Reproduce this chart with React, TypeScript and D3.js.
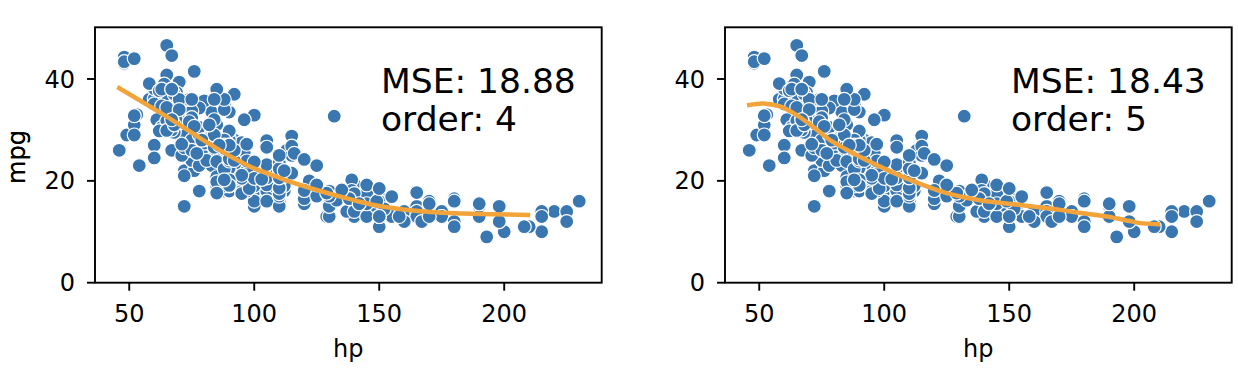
import React from "react";
import * as d3 from "d3";

// Scatter data (hp, mpg)
const hpValues = [
130,165,150,150,140,198,220,215,225,190,170,160,150,225,95,95,97,85,88,46,87,90,95,113,90,215,200,210,193,
88,90,95,100,105,100,88,100,165,175,153,150,180,170,175,110,72,100,88,86,90,70,76,65,69,60,70,
95,80,54,90,86,165,175,150,153,150,208,155,160,190,97,150,130,140,150,112,76,87,69,86,92,97,80,88,
175,150,145,137,150,198,150,158,150,215,225,175,105,100,100,88,95,46,150,167,170,180,100,88,72,94,90,85,107,90,145,230,49,75,91,112,150,110,122,180,
95,100,100,67,80,65,75,100,110,105,140,150,150,140,150,83,67,78,52,61,75,75,75,97,93,67,
95,105,72,72,170,145,150,148,110,105,110,95,110,110,129,75,83,100,78,96,71,97,97,70,90,95,88,98,115,53,
86,81,92,79,83,140,150,120,152,100,105,81,90,52,60,70,53,100,78,110,95,71,70,75,72,102,150,88,108,120,180,145,130,150,
68,80,58,96,70,145,110,145,130,110,105,100,98,180,170,190,149,78,88,75,89,63,83,67,78,97,110,110,48,66,52,70,60,
110,140,139,105,95,85,88,100,90,105,85,110,120,145,165,139,140,68,95,97,75,95,105,85,97,103,125,115,133,71,68,
115,85,88,90,110,130,129,138,135,155,142,125,150,71,65,80,80,77,125,71,90,70,70,65,69,90,115,115,90,
76,60,70,65,90,88,90,90,78,90,75,92,75,65,105,65,48,48,67,67,67,67,62,132,100,88,72,
84,84,92,110,84,58,64,60,67,65,62,68,63,65,65,74,75,75,100,74,80,76,116,120,110,105,88,85,
88,88,88,85,84,90,92,74,68,68,63,70,88,75,70,67,67,67,110,85,92,112,96,84,90,86,52,84,79,82
];
const mpgValues = [
18,15,18,16,17,15,14,14,14,15,15,14,15,14,24,22,18,21,27,26,25,24,25,26,21,10,10,11,9,
27,28,25,19,16,17,19,18,14,14,14,14,12,13,13,18,22,19,18,23,28,30,30,31,35,27,26,
24,25,23,20,21,13,14,15,14,17,11,13,12,13,19,15,13,13,14,18,22,21,26,22,28,23,28,27,
13,14,13,14,15,12,13,13,14,13,12,13,18,16,18,18,23,26,11,12,13,12,18,20,21,22,18,19,21,26,15,16,29,24,20,19,15,24,20,11,
20,19,15,31,26,32,25,16,16,18,16,13,14,14,14,29,26,26,31,32,28,24,26,24,26,31,
19,18,15,15,16,15,16,14,17,16,15,18,21,20,13,29,23,20,23,24,25,24,18,29,19,23,23,22,25,33,
28,25,25,26,27,17.5,16,15.5,14.5,22,22,24,22.5,29,24.5,29,33,20,18,18.5,17.5,29.5,32,28,26.5,20,13,19,19,16.5,16.5,13,13,13,
31.5,30,36,25.5,33.5,17.5,17,15.5,15,17.5,20.5,19,18.5,16,15.5,15.5,16,29,24.5,26,25.5,30.5,33.5,30,30.5,22,21.5,21.5,43.1,36.1,32.8,39.4,36.1,
19.9,19.4,20.2,19.2,20.5,20.2,25.1,20.5,19.4,20.6,20.8,18.6,18.1,19.2,17.7,18.1,17.5,30,27.5,27.2,30.9,21.1,23.2,23.8,23.9,20.3,17,21.6,16.2,31.5,29.5,
21.5,19.8,22.3,20.2,20.6,17,17.6,16.5,18.2,16.9,15.5,19.2,18.5,31.9,34.1,35.7,27.4,25.4,23,27.2,23.9,34.2,34.5,31.8,37.3,28.4,28.8,26.8,33.5,
41.5,38.1,32.1,37.2,28,26.4,24.3,19.1,34.3,29.8,31.3,37,32.2,46.6,27.9,40.8,44.3,43.4,36.4,30,44.6,33.8,29.8,32.7,23.7,35,32.4,
27.2,26.6,25.8,23.5,30,39.1,39,35.1,32.3,37,37.7,34.1,34.7,34.4,29.9,33,33.7,32.4,32.9,31.6,28.1,30.7,25.4,24.2,22.4,26.6,20.2,17.6,
28,27,34,31,29,27,24,36,37,31,38,36,36,36,34,38,32,38,25,38,26,22,32,36,27,27,44,32,28,31
];

// Fitted curves
const fit4Hp = [46, 65, 78.3, 91.6, 98.3, 109, 111.6, 125, 138.3, 151.7, 170.3, 183.6, 209.5];
const fit4Mpg = [38.2, 32.6, 28.4, 24.5, 22.8, 20.8, 20.3, 18.2, 16.4, 14.9, 13.9, 13.6, 13.3];
const fit5Hp = [46, 51.6, 58.3, 65, 71.6, 78.3, 85, 91.6, 98.3, 110.3, 125, 138.3, 151.6, 170.3, 175.6, 189, 198.3, 202.3, 209.5];
const fit5Mpg = [34.9, 35.2, 34.6, 32.9, 30.6, 28.0, 26.1, 24.4, 22.8, 20.2, 17.6, 16.2, 15.4, 14.3, 13.9, 13.0, 12.1, 11.7, 11.5];

const xTicks = [50, 100, 150, 200];
const yTicks = [0, 20, 40];
const panelLabels = [
  ["MSE: 18.88", "order: 4"],
  ["MSE: 18.43", "order: 5"],
];

const W = 1238, H = 370;
const AX_W = 506.7, AX_TOP = 27.3, AX_H = 255.4;
const panelLeft = [95, 725];
const FONT = "DejaVu Sans, sans-serif";

function Panel({ left, fitHp, fitMpg, labels }: any) {
  const x = d3.scaleLinear().domain([36.3, 239.0]).range([0, AX_W]);
  const y = d3.scaleLinear().domain([0, 50.15]).range([AX_H, 0]);
  const pts = d3.range(hpValues.length).map((i) => [hpValues[i], mpgValues[i]]);
  const line = d3
    .line<number>()
    .x((i) => x(fitHp[i]))
    .y((i) => y(fitMpg[i]))
    .curve(d3.curveCatmullRom.alpha(0.5));
  return (
    <g transform={`translate(${left},${AX_TOP})`}>
      <g>
        {pts.map((p, i) => (
          <circle key={i} cx={x(p[0])} cy={y(p[1])} r={7} fill="#3a77b0" stroke="#ffffff" strokeWidth={1.2} />
        ))}
      </g>
      <path d={line(d3.range(fitHp.length)) || ""} fill="none" stroke="#f2a43a" strokeWidth={4.5} strokeLinecap="square" />
      <text x={286} y={65.4} fontFamily={FONT} fontSize={34.5} fill="#000">{labels[0]}</text>
      <text x={286} y={103.4} fontFamily={FONT} fontSize={34.5} fill="#000">{labels[1]}</text>
      <rect x={0} y={0} width={AX_W} height={AX_H} fill="none" stroke="#000" strokeWidth={1.9} />
      {xTicks.map((t) => (
        <g key={t} transform={`translate(${x(t)},${AX_H})`}>
          <line y1={0} y2={8} stroke="#000" strokeWidth={1.9} />
          <text y={39.5} textAnchor="middle" fontFamily={FONT} fontSize={24} fill="#000">{t}</text>
        </g>
      ))}
      {yTicks.map((t) => (
        <g key={t} transform={`translate(0,${y(t)})`}>
          <line x1={-8} x2={0} stroke="#000" strokeWidth={1.9} />
          <text x={-20} dy="0.36em" textAnchor="end" fontFamily={FONT} fontSize={24} fill="#000">{t}</text>
        </g>
      ))}
      <text x={AX_W / 2} y={357 - AX_TOP} textAnchor="middle" fontFamily={FONT} fontSize={24} fill="#000">hp</text>
      <text transform={`translate(${25.2 - left},${157 - AX_TOP}) rotate(-90)`} textAnchor="middle" fontFamily={FONT} fontSize={24} fill="#000">mpg</text>
    </g>
  );
}

export default function App() {
  return (
    <div style={{ position: "absolute", left: 0, top: 0 }}>
      <svg width={W} height={H} style={{ display: "block", background: "#fff" }}>
        {panelLeft.map((l, k) => (
          <Panel
            key={k}
            left={l}
            fitHp={k === 0 ? fit4Hp : fit5Hp}
            fitMpg={k === 0 ? fit4Mpg : fit5Mpg}
            labels={panelLabels[k]}
          />
        ))}
      </svg>
    </div>
  );
}
